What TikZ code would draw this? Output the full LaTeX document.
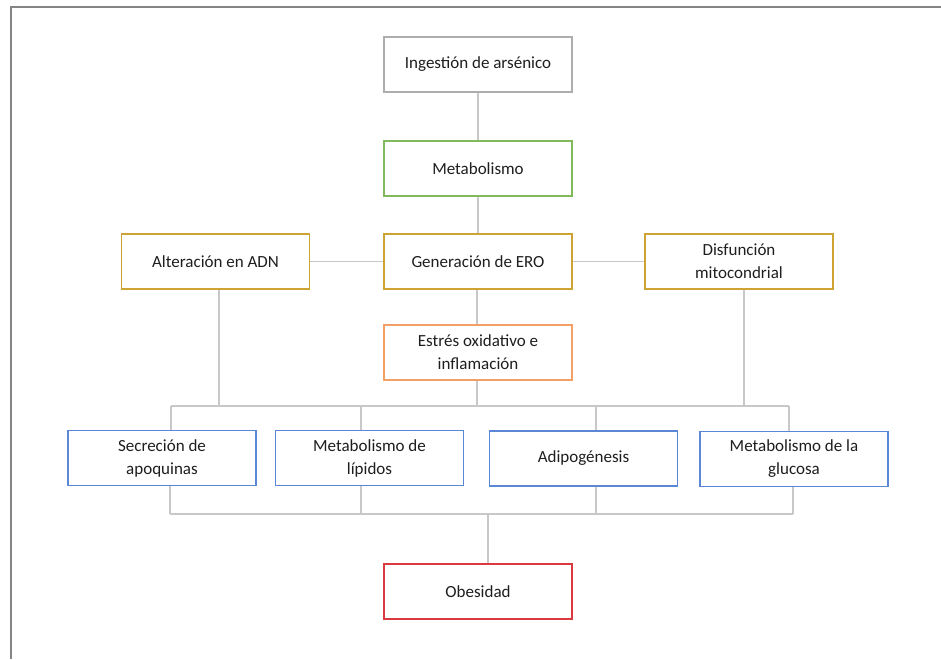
\documentclass[tikz,border=0pt]{standalone}
\usepackage{fontspec}
\setmainfont{Carlito}
\definecolor{cgray}{HTML}{ADADAD}
\definecolor{cgreen}{HTML}{80BA5C}
\definecolor{cgold}{HTML}{CDA333}
\definecolor{corange}{HTML}{F3A067}
\definecolor{cblue}{HTML}{5B88D6}
\definecolor{cred}{HTML}{D83A40}
\definecolor{cline}{HTML}{C8C8C8}
\definecolor{cframe}{HTML}{858585}
\definecolor{ctext}{HTML}{1E1E1E}
\begin{document}
\begin{tikzpicture}[x=1pt,y=-1pt,
  box/.style={draw, line width=1.4pt, fill=white, minimum width=188pt, minimum height=55pt,
    inner sep=2pt, align=center, font=\fontsize{17}{23}\selectfont, text=ctext},
  conn/.style={draw=cline, line width=1.2pt}]
\useasboundingbox (0,0) rectangle (941,659);
\fill[white] (0,0) rectangle (941,659);
\draw[cframe, line width=2pt] (11,659) -- (11,7) -- (941,7);

\node[box, draw=cgray]   (ing) at (478,64.5)  {Ingestión de arsénico};
\node[box, draw=cgreen]  (met) at (478,168.5) {Metabolismo};
\node[box, draw=cgold]   (gen) at (478,261.5) {Generación de ERO};
\node[box, draw=cgold]   (alt) at (215.5,261.5) {Alteración en ADN};
\node[box, draw=cgold]   (dis) at (739,261.5) {Disfunción\\mitocondrial};
\node[box, draw=corange] (est) at (478,352.5) {Estrés oxidativo e\\inflamación};
\node[box, draw=cblue]   (sec) at (162,458)   {Secreción de\\apoquinas};
\node[box, draw=cblue]   (lip) at (369.5,458) {Metabolismo de\\lípidos};
\node[box, draw=cblue]   (adi) at (583.5,458.5) {Adipogénesis};
\node[box, draw=cblue]   (glu) at (794,459)   {Metabolismo de la\\glucosa};
\node[box, draw=cred]    (obe) at (478,591.5) {Obesidad};

\coordinate (tb) at (477,406);
\coordinate (bb) at (488,514);
\coordinate (tbl) at (171,406);
\coordinate (tbr) at (789,406);
\coordinate (bbl) at (170,514);
\coordinate (bbr) at (793,514);

% vertical chain
\draw[conn] (ing.south) -- (met.north);
\draw[conn] (met.south) -- (gen.north);
\draw[conn] (alt.east) -- (gen.west);
\draw[conn] (gen.east) -- (dis.west);
\draw[conn] ([xshift=-1pt]gen.south) -- ([xshift=-1pt]est.north);
% top bus
\draw[conn] ([xshift=-1pt]est.south) -- (tb);
\draw[conn] (tbl) -- (tbr);
\draw[conn] ([xshift=3.5pt]alt.south) -- ([xshift=3.5pt]alt.south |- tb);
\draw[conn] ([xshift=5pt]dis.south) -- ([xshift=5pt]dis.south |- tb);
\draw[conn] (tbl) -- (tbl |- sec.north);
\draw[conn] ([xshift=-8.5pt]lip.north |- tb) -- ([xshift=-8.5pt]lip.north);
\draw[conn] ([xshift=12.5pt]adi.north |- tb) -- ([xshift=12.5pt]adi.north);
\draw[conn] (tbr) -- (tbr |- glu.north);
% bottom bus
\draw[conn] (bbl) -- (bbr);
\draw[conn] (bbl |- sec.south) -- (bbl);
\draw[conn] ([xshift=-8.5pt]lip.south) -- ([xshift=-8.5pt]lip.south |- bb);
\draw[conn] ([xshift=12.5pt]adi.south) -- ([xshift=12.5pt]adi.south |- bb);
\draw[conn] (bbr |- glu.south) -- (bbr);
\draw[conn] (bb) -- (bb |- obe.north);
\end{tikzpicture}
\end{document}
